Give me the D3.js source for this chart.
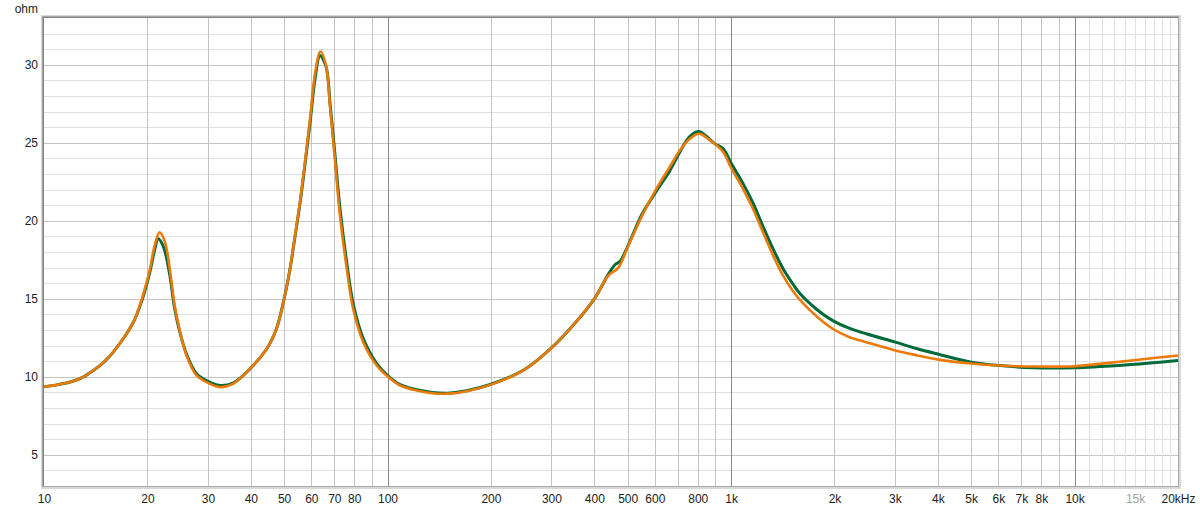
<!DOCTYPE html>
<html><head><meta charset="utf-8">
<script src="https://cdn.jsdelivr.net/npm/d3@7"></script>
<style>
html,body{margin:0;padding:0;background:#fff;}
svg{display:block;font-family:"Liberation Sans",Arial,sans-serif;}
</style></head>
<body><svg id="c" width="1200" height="510"></svg>
<script>
// ---- data ----
const xDomain = [10, 20000];
const yDomain = [3, 33];
const yTicks = [5, 10, 15, 20, 25, 30];
const xTickLabels = [
  [10,"10"],[20,"20"],[30,"30"],[40,"40"],[50,"50"],[60,"60"],[70,"70"],[80,"80"],
  [100,"100"],[200,"200"],[300,"300"],[400,"400"],[500,"500"],[600,"600"],[800,"800"],
  [1000,"1k"],[2000,"2k"],[3000,"3k"],[4000,"4k"],[5000,"5k"],[6000,"6k"],[7000,"7k"],[8000,"8k"],
  [10000,"10k"],[15000,"15k"],[20000,"20kHz"]
];
const greenFreq = [10,11,12,13,13.6,14.6,15.6,17,18.2,19,19.66,20.35,21,21.5,22.3,23.2,24,24.9,26,27.8,30.4,32.5,35.5,38.9,44.5,47.5,50,52,53.8,55.6,57.5,59.5,61.6,63.6,66.2,68.1,70.4,72.7,76.1,79.4,85,93,100.5,108.8,120,135,150,170,200,250,300,350,400,440,460,475,500,550,606,663,709,758,807,844,896,950,1000,1083,1158,1238,1325,1416,1514,1584,1780,1977,2213,2475,3006,3484,4017,5000,6057,7547,10040,11816,14630,20000];
const greenOhm  = [9.36,9.5,9.68,9.98,10.26,10.75,11.37,12.44,13.5,14.5,15.5,16.75,18.15,18.85,18.3,16.6,14.4,12.8,11.45,10.2,9.65,9.45,9.6,10.3,11.8,13.08,15.0,16.9,19.0,21.1,23.6,26.3,29.2,30.6,29.9,27.4,24.1,20.8,17.3,14.7,12.45,10.85,10.05,9.5,9.2,9.0,8.95,9.1,9.52,10.45,11.85,13.4,15.0,16.6,17.2,17.4,18.35,20.4,21.9,23.2,24.4,25.4,25.72,25.45,24.95,24.6,23.7,22.4,21.15,19.65,18.2,16.95,15.95,15.35,14.3,13.6,13.1,12.76,12.22,11.8,11.45,10.94,10.72,10.58,10.58,10.66,10.79,11.05];
const orangeFreq = [10,11,12,13,13.6,14.6,15.6,17,18.2,19,19.66,20.35,21,21.7,22.5,23.3,24,24.9,26,27.8,30.4,32.5,35.5,38.9,44.5,47.5,50,52,53.8,55.6,57.5,59.5,61.6,63.8,66.2,68.1,70.4,72.7,76.1,79.4,85,93,100.5,108.8,120,135,150,170,200,250,300,350,400,440,470,500,550,606,663,709,758,807,844,896,950,1000,1083,1158,1238,1325,1416,1514,1584,1780,1977,2213,2475,3006,3484,4017,5000,6057,7547,10040,11816,14630,20000];
const orangeOhm  = [9.36,9.5,9.68,9.98,10.26,10.75,11.37,12.44,13.5,14.57,15.64,16.92,18.42,19.27,18.63,16.71,14.57,12.86,11.37,10.09,9.55,9.34,9.55,10.3,11.8,13.08,15.0,16.92,19.06,21.2,23.76,26.54,29.53,30.85,29.96,27.2,23.76,20.34,16.92,14.36,12.22,10.72,9.98,9.44,9.15,8.95,8.92,9.08,9.5,10.45,11.85,13.4,15.0,16.5,17.0,18.3,20.3,22.05,23.45,24.5,25.26,25.58,25.37,24.94,24.4,23.4,22.05,20.77,19.27,17.78,16.5,15.5,14.95,13.85,13.08,12.54,12.22,11.69,11.37,11.1,10.85,10.72,10.66,10.68,10.83,11.05,11.37];

// ---- layout ----
const L = 44, R = 1178, T = 18, B = 486;
const svg = d3.select("#c");
const x = d3.scaleLog().domain(xDomain).range([L, R]);
const y = d3.scaleLinear().domain(yDomain).range([B, T]);

// frame shadow
const shadow = svg.append("g");
shadow.append("rect").attr("x", L-3).attr("y", T-3).attr("width", R-L+6).attr("height", B-T+6).attr("fill", "#d8d8d8");
shadow.append("rect").attr("x", L-2).attr("y", T-2).attr("width", R-L+3).attr("height", B-T+3).attr("fill", "#a8a8a8");
shadow.append("rect").attr("x", L-1).attr("y", T-1).attr("width", R-L+1).attr("height", B-T+1).attr("fill", "#808080");
svg.append("rect").attr("x", L).attr("y", T).attr("width", R-L).attr("height", B-T).attr("fill", "#fff");

const grid = svg.append("g").attr("shape-rendering", "crispEdges");
// horizontal grid
d3.range(4, 33).forEach(v => {
  grid.append("line").attr("x1", L).attr("x2", R).attr("y1", Math.round(y(v))+0.5).attr("y2", Math.round(y(v))+0.5)
    .attr("stroke", v % 5 === 0 ? "#c4c4c4" : "#e0e0e0").attr("stroke-width", 1);
});
// vertical grid
const vlines = [];
[10,100,1000].forEach(d => { for (let k = 2; k <= 9; k++) vlines.push([d*k, "#c4c4c4"]); });
for (let k = 11; k <= 19; k++) vlines.push([k*1000, "#e0e0e0"]);
[100,1000,10000].forEach(d => vlines.push([d, "#8a8a8a"]));
vlines.forEach(([f, c]) => {
  const px = Math.round(x(f)) + 0.5;
  grid.append("line").attr("x1", px).attr("x2", px).attr("y1", T).attr("y2", B).attr("stroke", c).attr("stroke-width", 1);
});

// axes labels
const xAxis = d3.axisBottom(x).tickValues(xTickLabels.map(d => d[0]))
  .tickFormat((d, i) => xTickLabels[i][1]).tickSize(0).tickPadding(0);
const gx = svg.append("g").attr("transform", `translate(0,${B+8})`).call(xAxis);
gx.select(".domain").remove();
gx.selectAll("text").attr("font-size", 12).attr("font-family", '"Liberation Sans",Arial,sans-serif')
  .attr("fill", (d) => d === 15000 ? "#a0a0a0" : "#222").attr("dy", "0.71em");

const yAxis = d3.axisLeft(y).tickValues(yTicks).tickSize(0).tickPadding(0);
const gy = svg.append("g").attr("transform", `translate(${L-6},0)`).call(yAxis);
gy.select(".domain").remove();
gy.selectAll("text").attr("font-size", 12).attr("font-family", '"Liberation Sans",Arial,sans-serif').attr("fill", "#222");

svg.append("text").attr("x", 38).attr("y", 13).attr("text-anchor", "end").attr("font-size", 12).attr("fill", "#222").text("ohm");

// curves
const line = d3.line().x(d => x(d[0])).y(d => y(d[1])).curve(d3.curveCatmullRom.alpha(0.5));
const plot = svg.append("g");
plot.append("path").datum(greenFreq.map((f, i) => [f, greenOhm[i]]))
  .attr("d", line).attr("fill", "none").attr("stroke", "#006a38").attr("stroke-width", 3);
plot.append("path").datum(orangeFreq.map((f, i) => [f, orangeOhm[i]]))
  .attr("d", line).attr("fill", "none").attr("stroke", "#ec7a08").attr("stroke-width", 2.6);
</script></body></html>
